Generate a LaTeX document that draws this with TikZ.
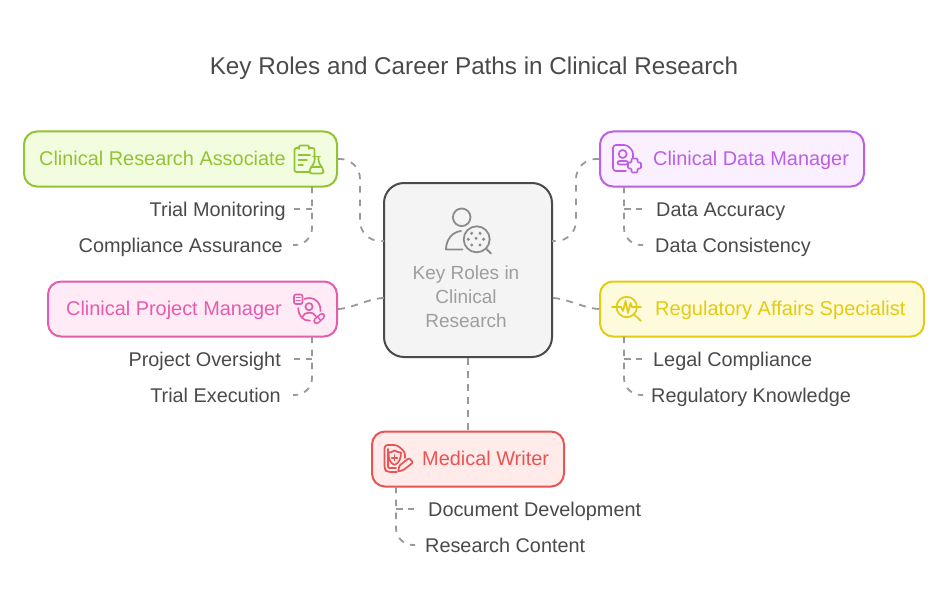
\documentclass[tikz,border=0pt]{standalone}
\usepackage{fontspec}
\setmainfont{Liberation Sans}
\definecolor{tx}{HTML}{4A4A4A}
\definecolor{cn}{HTML}{999999}
\definecolor{gS}{HTML}{93C332}\definecolor{gF}{HTML}{F2FDDF}
\definecolor{pS}{HTML}{BC5FE3}\definecolor{pF}{HTML}{FBF0FF}
\definecolor{kS}{HTML}{E45CAE}\definecolor{kF}{HTML}{FEEBF6}
\definecolor{yS}{HTML}{E3CB12}\definecolor{yF}{HTML}{FEFBDC}
\definecolor{rS}{HTML}{E85454}\definecolor{rF}{HTML}{FFEBEA}
\tikzset{
 x=1pt,y=-1pt,
 role/.style={draw,line width=2pt,rounded corners=13pt,minimum height=55pt,inner sep=0pt},
 corebox/.style={draw=tx,fill=black!4.5,line width=2pt,rounded corners=20pt,minimum width=168pt,minimum height=174pt},
 conn/.style={draw=cn,line width=1.8pt,dash pattern=on 6.5pt off 6.5pt},
 bigconn/.style={conn,dash pattern=on 6.5pt off 7pt},
 midconn/.style={conn,dash pattern=on 7pt off 6.5pt},
 twig/.style={conn,dash pattern=on 6.5pt off 5.5pt},
 lab/.style={font=\fontsize{19.85}{23}\selectfont,inner sep=0pt,text=tx,anchor=base},
 corelab/.style={font=\fontsize{19}{23}\selectfont,inner sep=0pt,text=black!38,anchor=base},
 rolet/.style={font=\fontsize{19.9}{23}\selectfont,inner sep=0pt,anchor=base west},
 ic/.style={line width=1.7pt,line cap=round,line join=round}
}
\begin{document}
\begin{tikzpicture}
\useasboundingbox (0,0) rectangle (948,607);
\fill[white] (0,0) rectangle (948,607);
\node[font=\fontsize{24.25}{28}\selectfont,text=tx,inner sep=0pt,anchor=base] (title) at (474,75) {Key Roles and Career Paths in Clinical Research};
% boxes
\node[role,draw=gS,fill=gF,minimum width=313pt] (cra) at (180.5,159) {};
\node[role,draw=pS,fill=pF,minimum width=264pt] (cdm) at (732,159) {};
\node[role,draw=kS,fill=kF,minimum width=289pt] (cpm) at (192.5,309) {};
\node[role,draw=yS,fill=yF,minimum width=324pt] (ras) at (762,309) {};
\node[role,draw=rS,fill=rF,minimum width=192pt] (mw) at (468,459) {};
\node[corebox] (core) at (468,270) {};
\coordinate (coreTL) at (384,241);
\coordinate (coreTR) at (552,241);
\coordinate (coreBL) at (384,298);
\coordinate (coreBR) at (552,298);
% role labels
\node[rolet,text=gS] (t1) at (39,165) {Clinical Research Associate};
\node[rolet,text=pS] (t2) at (653,165) {Clinical Data Manager};
\node[rolet,text=kS] (t3) at (66,315) {Clinical Project Manager};
\node[rolet,font=\fontsize{20.05}{23}\selectfont,text=yS] (t4) at (655,315) {Regulatory Affairs Specialist};
\node[rolet,text=rS] (t5) at (422,465) {Medical Writer};
% core text
\node[corelab] (k1) at (466,279) {Key Roles in};
\node[corelab] (k2) at (466,303) {Clinical};
\node[corelab] (k3) at (466,327) {Research};
% sub labels
\node[lab,anchor=base east] (a1) at (286,216) {Trial Monitoring};
\node[lab,anchor=base east] (a2) at (283,252) {Compliance Assurance};
\node[lab,anchor=base east] (c1) at (281,366) {Project Oversight};
\node[lab,anchor=base east] (c2) at (281,402) {Trial Execution};
\node[lab,anchor=base west] (b1) at (656,216) {Data Accuracy};
\node[lab,anchor=base west] (b2) at (655,252) {Data Consistency};
\node[lab,anchor=base west] (d1) at (653,366) {Legal Compliance};
\node[lab,anchor=base west] (d2) at (651,402) {Regulatory Knowledge};
\node[lab,anchor=base west] (e1) at (428,516) {Document Development};
\node[lab,anchor=base west] (e2) at (425,552) {Research Content};
% connector free points
\coordinate (p1) at (360,159);\coordinate (p2) at (360,241);
\coordinate (q1) at (576,159);\coordinate (q2) at (576,241);
\coordinate (a1e) at (294,209);\coordinate (a2e) at (293,245);
\coordinate (a1c) at (312,209);\coordinate (a2c) at (312,245);
\coordinate (b1e) at (642,209);\coordinate (b2e) at (643,245);
\coordinate (b1c) at (624,209);\coordinate (b2c) at (624,245);
\coordinate (c1e) at (294,359);\coordinate (c2e) at (293,395);
\coordinate (c1c) at (312,359);\coordinate (c2c) at (312,395);
\coordinate (d1e) at (642,359);\coordinate (d2e) at (643,395);
\coordinate (d1c) at (624,359);\coordinate (d2c) at (624,395);
\coordinate (e1e) at (414,509);\coordinate (e2e) at (415,545);
\coordinate (e1c) at (396,509);\coordinate (e2c) at (396,545);
\coordinate (craB) at (312,186.5);\coordinate (cdmB) at (624,186.5);
\coordinate (cpmB) at (312,336.5);\coordinate (rasB) at (624,336.5);
\coordinate (mwB) at (396,486.5);
% connectors
\draw[bigconn,rounded corners=20pt] (cra.east) -- (p1) -- (p2) -- (coreTL);
\draw[bigconn,rounded corners=20pt] (cdm.west) -- (q1) -- (q2) -- (coreTR);
\draw[midconn] (cpm.east) .. controls (350,309) and (370,298) .. (coreBL);
\draw[midconn] (ras.west) .. controls (586,309) and (566,298) .. (coreBR);
\draw[conn] (core.south) -- (mw.north);
\draw[conn] (craB) -- (a1c);\draw[twig] (a1c) -- (a1e);
\draw[conn,rounded corners=17pt] (craB) -- (a2c) -- (a2e);
\draw[conn] (cdmB) -- (b1c);\draw[twig] (b1c) -- (b1e);
\draw[conn,rounded corners=17pt] (cdmB) -- (b2c) -- (b2e);
\draw[conn] (cpmB) -- (c1c);\draw[twig] (c1c) -- (c1e);
\draw[conn,rounded corners=17pt] (cpmB) -- (c2c) -- (c2e);
\draw[conn] (rasB) -- (d1c);\draw[twig] (d1c) -- (d1e);
\draw[conn,rounded corners=17pt] (rasB) -- (d2c) -- (d2e);
\draw[conn] (mwB) -- (e1c);\draw[twig] (e1c) -- (e1e);
\draw[conn,rounded corners=17pt] (mwB) -- (e2c) -- (e2e);
% core icon
\begin{scope}[ic,draw=black!45,line width=1.8pt]
\draw (461.7,217.3) circle[radius=8.8];
\draw (462.5,249.5) -- (446,249.5) .. controls (446,240) and (452,232) .. (461,231);
\draw (476.7,239.3) circle[radius=13];
\draw (486,248.5) -- (491,253.5);
\foreach \p in {(471.7,233.3),(480,233.3),(468.3,239.3),(476,238.3),(483.6,239.3),(471.7,245),(480,245)}
 \fill[black!45] \p circle[radius=1.7];
\end{scope}
% CRA icon
\begin{scope}[ic,draw=gS]
\draw[rounded corners=2pt] (309,172) -- (294.5,172) -- (294.5,148) -- (314.5,148) -- (314.5,158);
\draw[rounded corners=1pt,fill=gF] (299,149) -- (299,145.5) -- (309,145.5) -- (309,149);
\draw (298.5,155) -- (310,155) (298.5,160) -- (307,160) (298.5,165) -- (303,165);
\draw[rounded corners=2.5pt,fill=gF] (314.7,156.5) -- (314.7,162) -- (309.5,170) -- (309.5,173.5) -- (323.5,173.5) -- (323.5,170) -- (318.5,162) -- (318.5,156.5);
\draw (313,156.5) -- (320,156.5) (311,167) -- (322,167);
\end{scope}
% CDM icon
\begin{scope}[ic,draw=pS]
\draw[rounded corners=3pt] (626,171) -- (613,171) -- (613,145) -- (627,145) -- (633,151) -- (633,158);
\draw (622.7,154) circle[radius=4];
\draw[rounded corners=2pt] (617.5,164.5) -- (617.5,161) -- (628,161) -- (628,164.5) -- cycle;
\draw[rounded corners=1pt] (631.5,158.5) -- (637.5,158.5) -- (637.5,162.5) -- (641,162.5) -- (641,168.5) -- (637.5,168.5) -- (637.5,172.5) -- (631.5,172.5) -- (631.5,168.5) -- (628,168.5) -- (628,162.5) -- (631.5,162.5) -- cycle;
\end{scope}
% CPM icon
\begin{scope}[ic,draw=kS]
\draw[rounded corners=2pt] (294,294.5) rectangle (302.5,304);
\draw (296.5,297.5) -- (300,297.5) (296.5,300.5) -- (300,300.5);
\draw (304.5,299) .. controls (311,296) and (321,300) .. (320.5,311);
\draw (298.2,308) .. controls (298.5,316) and (303,321) .. (310,320.7);
\draw (309,306.7) circle[radius=3.6];
\draw (302.7,316.7) .. controls (303,314) and (306,312.7) .. (309,312.7) .. controls (312.5,312.7) and (315.5,314) .. (316,316.7);
\draw[line width=6.5pt] (316.5,321) -- (322,316);
\draw[draw=kF,line width=3.3pt] (316.5,321) -- (322,316);
\draw[line width=1.4pt] (317.5,316.5) -- (320.5,320.5);
\end{scope}
% RAS icon
\begin{scope}[ic,draw=yS]
\draw (626.7,307) circle[radius=10.2];
\draw (612,307) -- (616.5,307) (636.9,307) -- (641,307);
\draw (617,307) -- (621,307) -- (623,311) -- (625.5,301) -- (628,313) -- (630.5,303) -- (632,307) -- (636,307);
\draw (633.5,314) -- (641,321);
\end{scope}
% MW icon
\begin{scope}[ic,draw=rS]
\draw[rounded corners=3pt] (397,472) -- (387,472) -- (384.5,469) -- (384.5,445) -- (397,445) -- (405,452) -- (405,458);
\draw[rounded corners=1pt] (388,449) -- (388,468) -- (396,468);
\draw (394.5,450.5) .. controls (397,452) and (399,452.5) .. (401,452.5) .. controls (401,459) and (399,463) .. (394.5,465) .. controls (390,463) and (388.5,459) .. (388.5,452.5) .. controls (390.5,452.5) and (392,452) .. (394.5,450.5) -- cycle;
\draw (394.5,455) -- (394.5,460.5) (391.7,457.7) -- (397.3,457.7);
\draw[rounded corners=1pt] (398,471.5) -- (399.5,465.5) -- (409,458) -- (413,462.5) -- (403.5,470) -- cycle;
\end{scope}
\end{tikzpicture}
\end{document}
